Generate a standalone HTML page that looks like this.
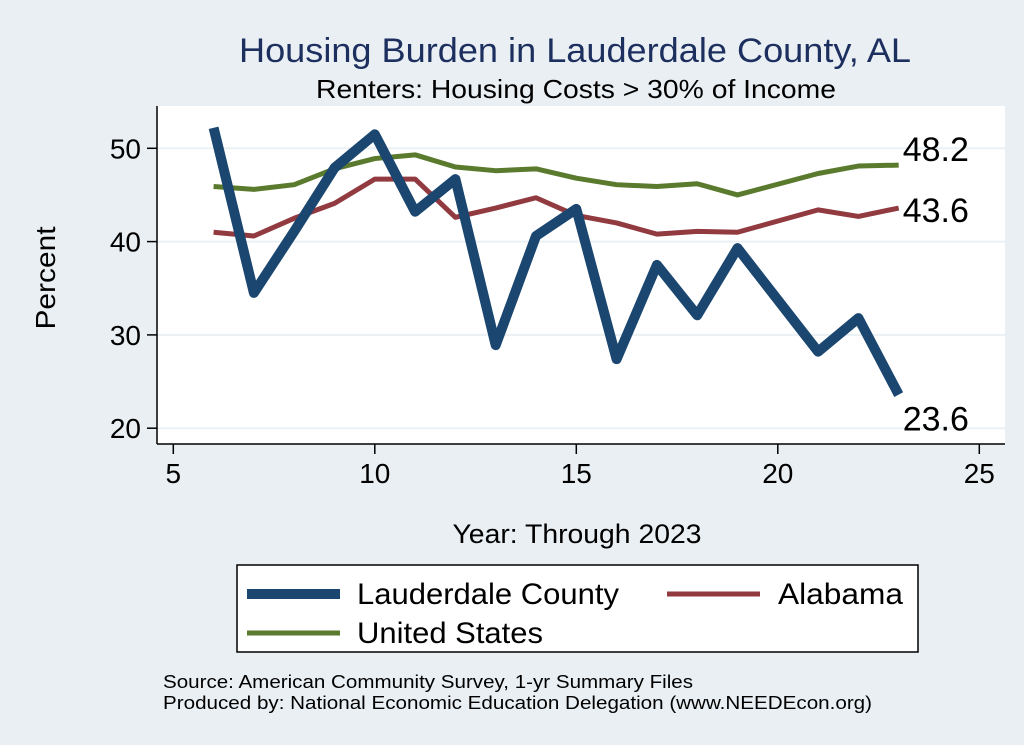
<!DOCTYPE html>
<html><head><meta charset="utf-8"><style>
body{margin:0;background:#e9eff3;font-family:"Liberation Sans",sans-serif;}
svg{display:block}
</style></head><body>
<svg id="chart" width="1024" height="745" xmlns="http://www.w3.org/2000/svg">
<rect x="0" y="0" width="1024" height="745" fill="#e9eff3"/>
<text x="575" y="62" font-size="34" fill="#1c2f5e" text-anchor="middle" textLength="672" lengthAdjust="spacingAndGlyphs">Housing Burden in Lauderdale County, AL</text>
<text x="576" y="98" font-size="26" fill="#000" text-anchor="middle" textLength="520" lengthAdjust="spacingAndGlyphs">Renters: Housing Costs &gt; 30% of Income</text>
<rect x="157" y="106" width="848" height="338" fill="#fff"/>
<g id="grid"></g>
<g id="axes"></g>
<g id="series"></g>
<g id="labels"></g>
<text x="55" y="278" font-size="28" text-anchor="middle" transform="rotate(-90 55 278)" textLength="103" lengthAdjust="spacingAndGlyphs">Percent</text>
<text x="577" y="543" font-size="27" text-anchor="middle" textLength="249" lengthAdjust="spacingAndGlyphs">Year: Through 2023</text>
<g>
<rect x="237" y="565" width="681" height="87" fill="#fff" stroke="#000" stroke-width="1.5"/>
<line x1="247" y1="594" x2="340" y2="594" stroke="#1a4670" stroke-width="10"/>
<text x="357" y="604" font-size="30" textLength="262" lengthAdjust="spacingAndGlyphs">Lauderdale County</text>
<line x1="667" y1="594" x2="760" y2="594" stroke="#913a40" stroke-width="5"/>
<text x="778" y="604" font-size="30" textLength="125" lengthAdjust="spacingAndGlyphs">Alabama</text>
<line x1="247" y1="633" x2="340" y2="633" stroke="#5a7a2e" stroke-width="5"/>
<text x="357" y="643" font-size="30" textLength="186" lengthAdjust="spacingAndGlyphs">United States</text>
</g>
<text x="163" y="688" font-size="18" textLength="530" lengthAdjust="spacingAndGlyphs">Source: American Community Survey, 1-yr Summary Files</text>
<text x="163" y="709" font-size="18" textLength="709" lengthAdjust="spacingAndGlyphs">Produced by: National Economic Education Delegation (www.NEEDEcon.org)</text>
</svg>
<script>
const years=[6,7,8,9,10,11,12,13,14,15,16,17,18,19,21,22,23];
const lauderdale=[52.2,34.5,41.1,47.9,51.5,43.2,46.7,28.9,40.6,43.5,27.4,37.5,32.1,39.3,28.2,31.8,23.6];
const alabama=[41.0,40.6,42.5,44.1,46.7,46.7,42.6,43.6,44.7,42.8,42.0,40.8,41.1,41.0,43.4,42.7,43.6];
const us=[45.9,45.6,46.1,47.8,48.9,49.3,48.0,47.6,47.8,46.8,46.1,45.9,46.2,45.0,47.3,48.1,48.2];
const xTicks=[5,10,15,20,25];
const yTicks=[20,30,40,50];
const NS="http://www.w3.org/2000/svg";
const X=v=>173.3+(v-5)*40.3;
const Y=v=>148.3+(50-v)*9.33;
function mk(tag,attrs,parent){const e=document.createElementNS(NS,tag);for(const k in attrs)e.setAttribute(k,attrs[k]);document.getElementById(parent).appendChild(e);return e;}
yTicks.forEach(t=>{
 const g=mk('line',{x1:157,x2:1005,y1:Y(t),y2:Y(t),stroke:'#eaf0f3','stroke-width':2},'grid');
 
 
 const tk=mk('line',{x1:147,x2:157,y1:Y(t),y2:Y(t),stroke:'#000','stroke-width':1.5},'axes');
 
 
 const tx=mk('text',{x:141,y:Y(t)+10,'font-size':28,'text-anchor':'end'},'axes');
 tx.textContent=t;
 
 
});
xTicks.forEach(t=>{
 const tk=mk('line',{x1:X(t),x2:X(t),y1:444,y2:454,stroke:'#000','stroke-width':1.5},'axes');
 
 
 const tx=mk('text',{x:X(t),y:483,'font-size':28,'text-anchor':'middle'},'axes');
 tx.textContent=t;
 
 
});
const ya=mk('line',{x1:157,x2:157,y1:106,y2:444,stroke:'#000','stroke-width':1.5},'axes');


const xa=mk('line',{x1:157,x2:1005,y1:444,y2:444,stroke:'#000','stroke-width':1.5},'axes');


function line(vals,color,w,name){
 const p=mk('polyline',{points:years.map((y,i)=>X(y)+','+Y(vals[i])).join(' '),fill:'none',stroke:color,'stroke-width':w,'stroke-linejoin':'round'},'series');
 
 
}
line(us,'#5a7a2e',5,'line-united-states');
line(alabama,'#913a40',5,'line-alabama');
line(lauderdale,'#1a4670',10,'line-lauderdale');
const ends=[[us,'label-us-end',-4],[alabama,'label-alabama-end',14],[lauderdale,'label-lauderdale-end',36]];
ends.forEach(([v,n,dy])=>{
 const last=v[v.length-1];
 const t=mk('text',{x:X(years[years.length-1])+4,y:Y(last)+dy,'font-size':34},'labels');
 t.textContent=last.toFixed(1);
 
 
});
</script>
</body></html>
